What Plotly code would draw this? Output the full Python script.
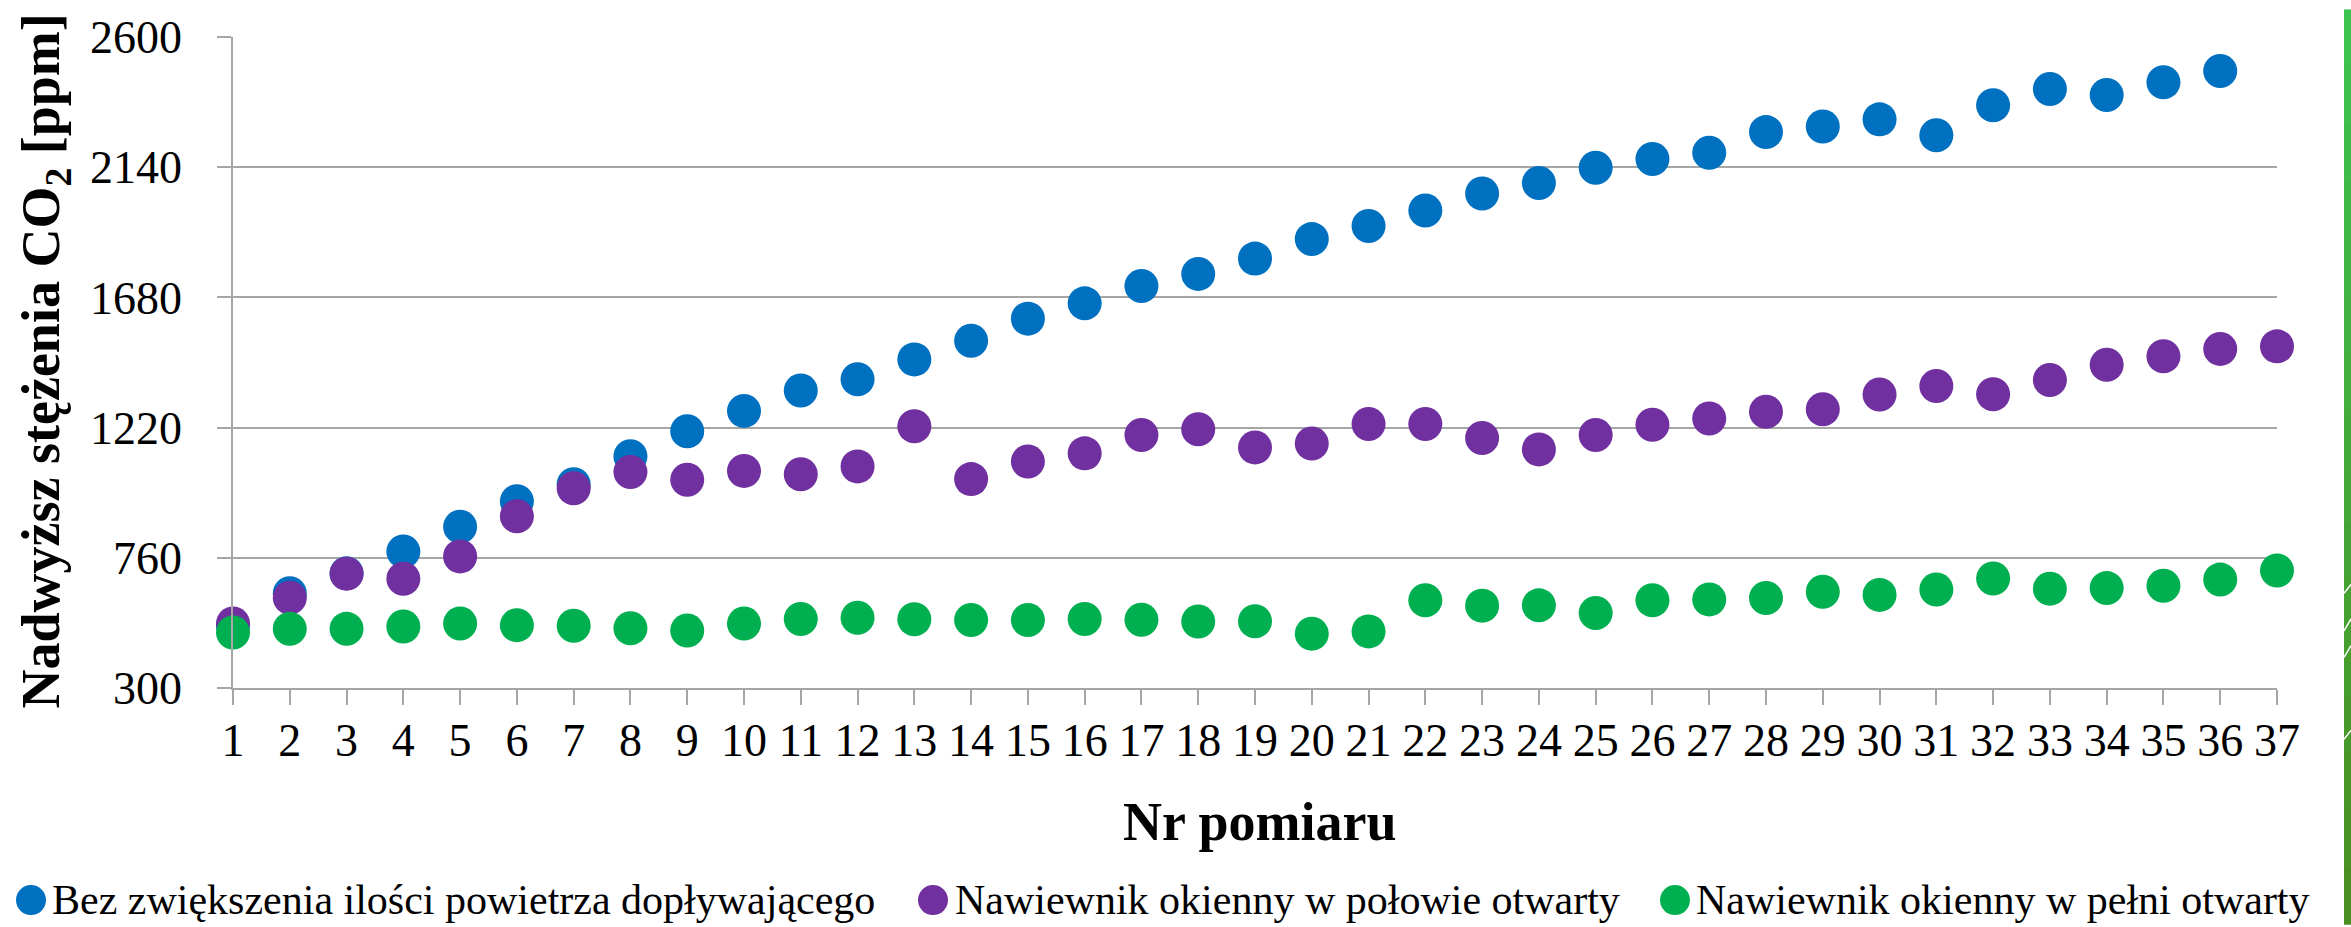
import plotly.graph_objects as go

# Measurement numbers and CO2 excess readings [ppm] for the three ventilation cases
pomiar = list(range(1, 38))

bez_zwiekszenia = [520, 635, 705, 782, 870, 960, 1020, 1119, 1207, 1279, 1351, 1391,
                   1461, 1527, 1605, 1659, 1720, 1763, 1817, 1886, 1932, 1987, 2047,
                   2084, 2138, 2169, 2191, 2264, 2284, 2309, 2253, 2359, 2416, 2395,
                   2440, 2480]

w_polowie = [528, 619, 704, 686, 765, 907, 1006, 1063, 1036, 1067, 1055, 1083, 1225,
             1038, 1100, 1129, 1194, 1214, 1150, 1164, 1233, 1233, 1183, 1143, 1194,
             1230, 1252, 1276, 1285, 1337, 1367, 1338, 1388, 1442, 1472, 1498, 1507]

w_pelni = [496, 509, 509, 517, 528, 522, 520, 511, 503, 528, 544, 548, 543, 540, 540,
           544, 541, 535, 536, 492, 500, 610, 591, 592, 565, 610, 613, 618, 640, 629,
           648, 687, 651, 653, 661, 683, 715]

series_names = ["Bez zwiększenia ilości powietrza dopływającego",
                "Nawiewnik okienny w połowie otwarty",
                "Nawiewnik okienny w pełni otwarty"]
series_colors = ["#0070C0", "#7030A0", "#00B050"]

y_ticks = [300, 760, 1220, 1680, 2140, 2600]
y_tick_text = ["300", "760", "1220", "1680", "2140", "2600"]

# Page geometry
W, H = 2351, 927
L, R, T, B = 233, 74, 28, 239
PW, PH = W - L - R, H - T - B

def px_x(x):
    return (x - L) / PW

def px_y(y):
    return (H - B - y) / PH

FONT = "Liberation Serif, Times New Roman, serif"
GRID = "#A6A6A6"

fig = go.Figure()
for vals, name, color in zip([bez_zwiekszenia, w_polowie, w_pelni], series_names, series_colors):
    fig.add_trace(go.Scatter(
        x=pomiar[:len(vals)], y=vals, mode="markers", name=name,
        marker=dict(size=34, color=color, line=dict(width=0)),
        cliponaxis=False, showlegend=False,
    ))

fig.update_layout(
    width=W, height=H,
    margin=dict(l=L, r=R, t=T, b=B),
    paper_bgcolor="white", plot_bgcolor="white",
    font=dict(family=FONT, color="black"),
)

fig.update_xaxes(
    range=[1, 37], tickvals=pomiar, ticktext=[str(p) for p in pomiar],
    showgrid=False, zeroline=False,
    showline=True, linecolor=GRID, linewidth=1.5,
    ticks="outside", ticklen=15, tickwidth=1.5, tickcolor=GRID,
    tickfont=dict(size=46, family=FONT, color="black"),
    ticklabelstandoff=-4,
)
fig.update_yaxes(
    range=[300, 2600], tickvals=y_ticks, ticktext=y_tick_text,
    showgrid=True, gridcolor=GRID, gridwidth=1.5, zeroline=False,
    showline=True, linecolor=GRID, linewidth=1.5,
    ticks="outside", ticklen=14, tickwidth=1.5, tickcolor=GRID,
    tickfont=dict(size=46, family=FONT, color="black"),
    ticklabelstandoff=26,
)

annotations = [
    dict(text="<b>Nr pomiaru</b>", x=px_x(1260), y=px_y(824), xref="paper", yref="paper",
         showarrow=False, font=dict(size=54, family=FONT), xanchor="center", yanchor="middle"),
    dict(text="<b>Nadwyższ stężenia CO<sub>2</sub> [ppm]</b>", x=px_x(45), y=px_y(357),
         xref="paper", yref="paper", showarrow=False, textangle=-90,
         font=dict(size=54, family=FONT), xanchor="center", yanchor="middle"),
]

# Legend row along the bottom edge
shapes = []
legend_y = 903
legend_items = [(31, 50), (933, 953), (1675, 1694)]
for (mx, tx), name, color in zip(legend_items, series_names, series_colors):
    shapes.append(dict(type="circle", xref="paper", yref="paper",
                       xsizemode="pixel", ysizemode="pixel",
                       xanchor=px_x(mx), yanchor=px_y(legend_y),
                       x0=-15, x1=15, y0=-15, y1=15,
                       fillcolor=color, line=dict(width=0)))
    annotations.append(dict(text=name, x=px_x(tx), y=px_y(legend_y), xref="paper", yref="paper",
                            showarrow=False, xanchor="left", yanchor="middle",
                            font=dict(size=42, family=FONT)))

# Green band along the right edge of the page
band_top = (0x3C, 0xC3, 0x50)
band_bot = (0x4A, 0x90, 0x20)
n_bands = 16
for i in range(n_bands):
    f = i / (n_bands - 1)
    c = tuple(round(a + (b - a) * f) for a, b in zip(band_top, band_bot))
    y0 = H * i / n_bands
    y1 = H * (i + 1) / n_bands + 1
    shapes.append(dict(type="rect", xref="paper", yref="paper",
                       x0=px_x(2344), x1=px_x(W + 2), y0=px_y(y1), y1=px_y(y0),
                       fillcolor="rgb(%d,%d,%d)" % c, line=dict(width=0), layer="above"))
for ya, yb in [(592, 583), (630, 618), (657, 645), (740, 731)]:
    shapes.append(dict(type="line", xref="paper", yref="paper",
                       x0=px_x(2344), x1=px_x(W), y0=px_y(ya), y1=px_y(yb),
                       line=dict(color="white", width=1.5), layer="above"))

fig.update_layout(annotations=annotations, shapes=shapes)

fig.write_html("out.html")
